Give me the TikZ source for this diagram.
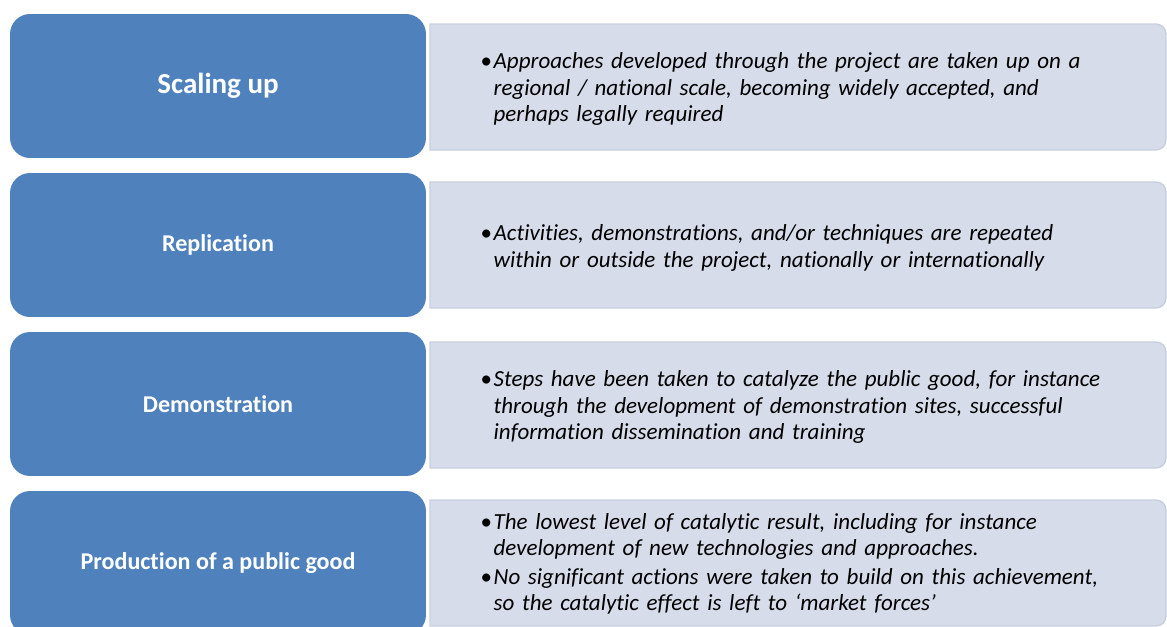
\documentclass[tikz,border=0pt]{standalone}
\usepackage{fontspec}
\setmainfont{Carlito}[Ligatures=NoCommon]
\usetikzlibrary{positioning}

\definecolor{stageblue}{RGB}{79,129,189}
\definecolor{panelfill}{RGB}{214,220,233}
\definecolor{panelline}{RGB}{200,207,222}

% bullet, then the lines of the item in a box beside it
\newcommand{\bitem}[1]{\noindent\makebox[7.4pt][l]{\upshape\textbullet}\parbox[t]{12.9cm}{\raggedright#1}\par}

\begin{document}
\begin{tikzpicture}[x=0.02cm,y=-0.02cm,
    stage/.style={fill=stageblue,rounded corners=0.4cm,minimum width=8.32cm,minimum height=2.88cm,
      text=white,font=\bfseries\fontsize{13.7}{16}\selectfont,inner sep=0pt},
    info/.style={text width=13.3cm,font=\itshape\fontsize{13.1}{15}\selectfont,inner sep=0pt,yshift=-0.06cm},
    panel/.style={fill=panelfill,draw=panelline,line width=0.8pt}]
  \useasboundingbox (0,0) rectangle (1167,626);
  \clip (0,0) rectangle (1167,626);

  % light panels behind the descriptions
  \foreach \t in {24,182,342,500}{
    \filldraw[panel] (430,\t) -- (1156,\t) arc[start angle=-90,end angle=0,radius=10]
      -- (1166,\t+116) arc[start angle=0,end angle=90,radius=10] -- (430,\t+126) -- cycle;
  }

  % stages
  \node[stage] (scale) at (218,86) {\fontsize{16.5}{19}\selectfont Scaling up};
  \node[stage] (repl) at (218,245) {Replication};
  \node[stage] (demo) at (218,404) {Demonstration};
  \node[stage] (prod) at (218,563) {Production of a public good};

  % descriptions
  \node[info,right=1.08cm of scale] (scaletxt) {\bitem{Approaches developed through the project are taken up on a\\
    regional / national scale, becoming widely accepted, and\\perhaps legally required}};
  \node[info,right=1.08cm of repl] (repltxt) {\bitem{Activities, demonstrations, and/or techniques are repeated\\
    within or outside the project, nationally or internationally}};
  \node[info,right=1.08cm of demo] (demotxt) {\bitem{Steps have been taken to catalyze the public good, for instance\\
    through the development of demonstration sites, successful\\information dissemination and training}};
  \node[info,right=1.08cm of prod,yshift=0.04cm] (prodtxt) {\bitem{The lowest level of catalytic result, including for instance\\
    development of new technologies and approaches.}\vspace{4pt}
    \bitem{No significant actions were taken to build on this achievement,\\
    so the catalytic effect is left to ‘market forces’}};
\end{tikzpicture}
\end{document}
